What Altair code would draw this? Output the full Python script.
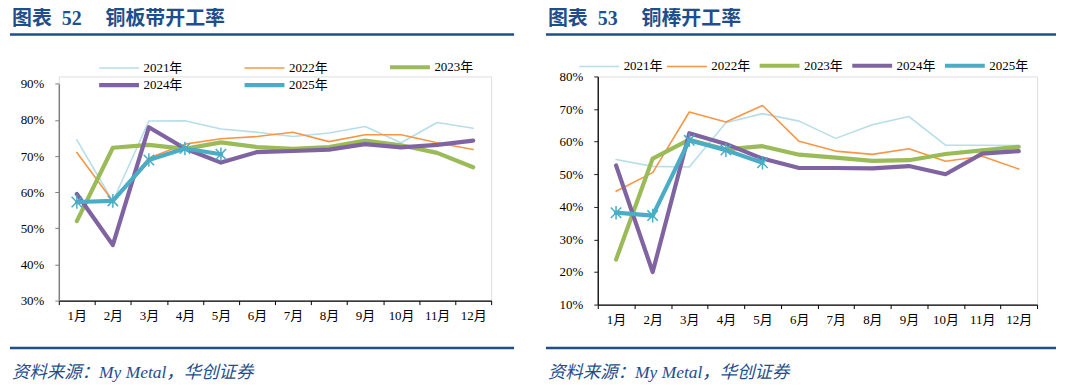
import altair as alt
import pandas as pd

months = ["1月", "2月", "3月", "4月", "5月", "6月", "7月", "8月", "9月", "10月", "11月", "12月"]
years = ["2021年", "2022年", "2023年", "2024年", "2025年"]
colors = ["#B7DEE8", "#F79646", "#9BBB59", "#8064A2", "#4BACC6"]
thick_years = ["2023年", "2024年", "2025年"]

# 铜板带开工率 (%)
plate_2021 = [74.5, 57.5, 79.7, 79.8, 77.5, 76.6, 75.4, 76.4, 78.2, 73.7, 79.3, 77.7]
plate_2022 = [71.0, 57.5, 69.5, 73.3, 74.8, 75.4, 76.6, 74.0, 75.9, 75.9, 73.7, 71.8]
plate_2023 = [52.0, 72.3, 73.1, 72.0, 73.8, 72.5, 72.0, 72.5, 74.3, 73.0, 70.9, 66.9]
plate_2024 = [59.5, 45.4, 78.0, 72.1, 68.2, 71.1, 71.4, 71.8, 73.3, 72.4, 73.1, 74.3]
plate_2025 = [57.3, 57.6, 68.9, 72.1, 70.5]

# 铜棒开工率 (%)
rod_2021 = [54.5, 52.4, 52.2, 65.8, 68.6, 66.3, 61.0, 65.2, 67.7, 58.9, 58.9, 58.8]
rod_2022 = [44.8, 50.5, 69.1, 66.0, 71.1, 60.1, 57.1, 56.1, 57.8, 54.0, 55.5, 51.6]
rod_2023 = [23.8, 54.8, 60.6, 57.6, 58.6, 56.0, 55.1, 54.1, 54.3, 56.2, 57.3, 58.4]
rod_2024 = [52.7, 20.0, 62.6, 59.3, 54.8, 51.9, 51.9, 51.8, 52.5, 50.0, 56.3, 57.1]
rod_2025 = [38.2, 37.3, 60.4, 57.4, 53.5]

plate_ticks = [0.3, 0.4, 0.5, 0.6, 0.7, 0.8, 0.9]
rod_ticks = [0.1, 0.2, 0.3, 0.4, 0.5, 0.6, 0.7, 0.8]

TITLE_BLUE = "#1F4E8C"
SERIF = "Liberation Serif, Times New Roman, Noto Sans CJK SC"
CJK = "Liberation Serif, Noto Sans CJK SC"


def long_df(series):
    rows = []
    for year, vals in zip(years, series):
        for m, v in zip(months, vals):
            rows.append({"month": m, "year": year, "value": v / 100.0})
    return pd.DataFrame(rows)


star = "M-1,-1L1,1M-1,1L1,-1M0,-1.3L0,1.3"
legend_line = "M-1,0L7,0"
legend_sw = {"expr": "indexof(['2023年','2024年','2025年'], datum.value) >= 0 ? 4.2 : 1.6"}


def make_legend(lx, ly, cols, colpad):
    return alt.Legend(
        orient="none", legendX=lx, legendY=ly, direction="horizontal", columns=cols,
        symbolType=legend_line, symbolSize=100, columnPadding=colpad, rowPadding=1,
        labelFont=SERIF, labelFontSize=13, labelColor="#000000", labelOffset=33,
        title=None, symbolStrokeWidth=legend_sw,
    )


def panel(df, width, height, ytop, ymin, ymax, ticks, title, leg, lx0, lx1, ycol):
    xenc = alt.X(
        "month:O", sort=months,
        scale=alt.Scale(type="band", paddingInner=0, paddingOuter=0),
        bandPosition=0.5,
        axis=alt.Axis(
            title=None, labelAngle=0, tickBand="extent", domainColor="#000000",
            tickColor="#000000", tickSize=4, labelPadding=5, labelFont=SERIF,
            labelFontSize=13, labelColor="#000000", domainWidth=1.2,
        ),
    )
    yenc = alt.Y(
        "value:Q",
        scale=alt.Scale(domain=[ymin, ymax], range=[height, ytop], nice=False, zero=False),
        axis=alt.Axis(
            title=None, values=ticks, format=".0%", grid=False, domainColor=ycol,
            tickColor=ycol, tickSize=4, labelPadding=11, labelFont=SERIF,
            labelFontSize=13, labelColor="#000000", domainWidth=1.5,
        ),
    )
    base = alt.Chart(df)
    lines = base.mark_line(strokeJoin="round", strokeCap="round").encode(
        x=xenc, y=yenc,
        color=alt.Color("year:N", scale=alt.Scale(domain=years, range=colors), legend=leg),
        strokeWidth=alt.condition(
            alt.FieldOneOfPredicate(field="year", oneOf=thick_years), alt.value(4.2), alt.value(1.6)
        ),
    )
    pts = base.transform_filter(alt.datum.year == "2025年").mark_point(
        shape=star, size=110, filled=False, strokeWidth=1.5, color="#4BACC6", opacity=1
    ).encode(x=xenc, y=yenc)

    tdf = pd.DataFrame({"t": [title]})
    ttl = alt.Chart(tdf).mark_text(
        font=CJK, fontSize=20, fontWeight="bold", color=TITLE_BLUE, align="left", baseline="middle"
    ).encode(text="t:N", x=alt.value(lx0), y=alt.value(-57.5))
    rule_top = alt.Chart(tdf).mark_rule(color=TITLE_BLUE, strokeWidth=2.5).encode(
        x=alt.value(lx0 - 2), x2=alt.value(lx1), y=alt.value(-42)
    )
    rule_bot = alt.Chart(tdf).mark_rule(color=TITLE_BLUE, strokeWidth=2.5).encode(
        x=alt.value(lx0 - 2), x2=alt.value(lx1), y=alt.value(272.5)
    )
    fdf = pd.DataFrame({"t": ["资料来源：My Metal，华创证券"]})
    foot = alt.Chart(fdf).mark_text(
        font="Liberation Serif, Noto Sans CJK SC", fontSize=17.5, fontStyle="italic",
        color=TITLE_BLUE, align="left", baseline="middle"
    ).encode(text="t:N", x=alt.value(lx0), y=alt.value(297.5))
    return alt.layer(lines, pts, ttl, rule_top, rule_bot, foot).properties(width=width, height=height)


plate_df = long_df([plate_2021, plate_2022, plate_2023, plate_2024, plate_2025])
rod_df = long_df([rod_2021, rod_2022, rod_2023, rod_2024, rod_2025])

leg_left = make_legend(39, -15.8, 3, 53)
leg_right = make_legend(-20, -17.3, 5, 0)

left = panel(plate_df, 434, 225, 7.4, 0.3, 0.9, plate_ticks,
             "图表\u200252\u2003\u2009铜板带开工率", leg_left, -47, 457, "#808080")
right = panel(rod_df, 441, 229, 0, 0.1, 0.8, rod_ticks,
              "图表\u200253\u2003\u2009铜棒开工率", leg_right, -50, 460, "#202020")

chart = alt.hconcat(left, right, spacing=107, bounds="flush").resolve_scale(
    color="independent", x="independent", y="independent"
).resolve_legend(color="independent").properties(
    padding=0
).configure_view(stroke=None).configure(background="white")

chart.save("out.html", embed_options={"renderer": "svg", "actions": False})
